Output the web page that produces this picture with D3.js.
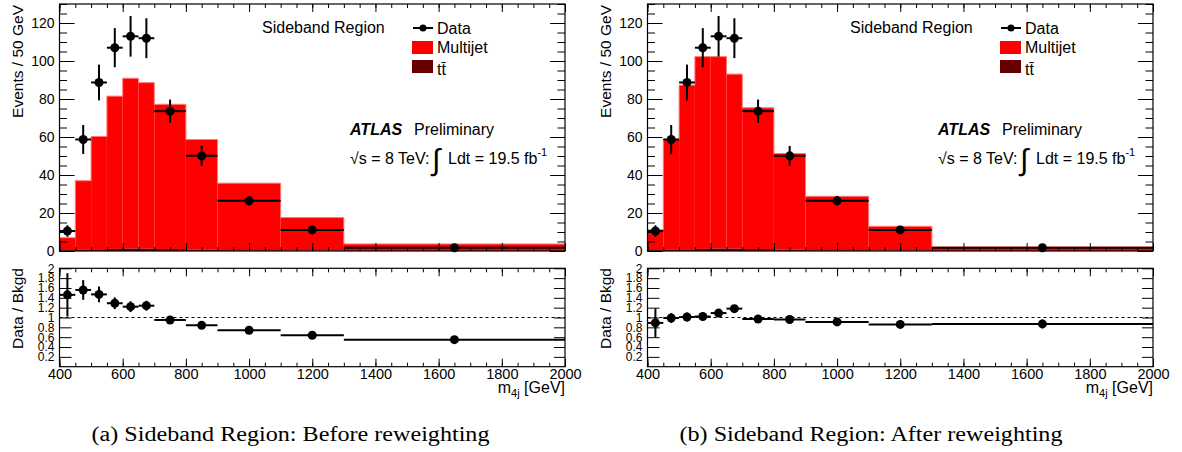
<!DOCTYPE html>
<html>
<head>
<meta charset="utf-8">
<script src="https://d3js.org/d3.v7.min.js"></script>
<style>
  body { margin: 0; background: #fff; }
  svg { display: block; }
  text { font-family: "Liberation Sans", Arial, sans-serif; fill: #000; }
  text.caption { font-family: "Liberation Serif", "Times New Roman", serif; }
</style>
</head>
<body>
<svg id="chart" width="1182" height="452"></svg>
<script>
// bin edges of the m4j histogram (GeV)
var binEdges = [400, 450, 500, 550, 600, 650, 700, 800, 900, 1100, 1300, 2000];
var dataCenters = [425, 475, 525, 575, 625, 675, 750, 850, 1000, 1200, 1650];

// data, events / 50 GeV
var dataValues = [10.5, 58.7, 88.7, 107, 113, 112, 73.6, 50.1, 26.4, 11.1, 1.7];
var dataErrors = [3, 7.6, 9.4, 10.3, 10.7, 10.5, 6.1, 5.2, 2.4, 1.5, 0.5];

// backgrounds
var ttbarValues = [0.3, 0.6, 0.9, 1.1, 1.3, 1.2, 1.0, 0.7, 0.4, 0.2, 0.05];
var multijetBefore = [6.7, 36.4, 59.4, 80.4, 89.6, 87.4, 76.2, 58.0, 35.3, 17.4, 3.65];
var multijetAfter = [10.9, 58.1, 86.4, 101.2, 101.0, 91.9, 74.4, 50.6, 28.4, 12.8, 2.1];

// data / bkgd
var ratioBefore = [1.46, 1.56, 1.47, 1.29, 1.22, 1.24, 0.95, 0.84, 0.74, 0.64, 0.55];
var ratioBeforeErr = [0.44, 0.2, 0.16, 0.12, 0.11, 0.1, 0.05, 0.04, 0.03, 0.03, 0.04];
var ratioAfter = [0.89, 0.99, 1.01, 1.02, 1.09, 1.18, 0.97, 0.96, 0.91, 0.86, 0.87];
var ratioAfterErr = [0.29, 0.1, 0.09, 0.08, 0.07, 0.07, 0.04, 0.05, 0.04, 0.06, 0.09];

var xTicks = [400, 600, 800, 1000, 1200, 1400, 1600, 1800, 2000];
var yTicksMain = [0, 20, 40, 60, 80, 100, 120];
var yTicksRatio = [0.2, 0.4, 0.6, 0.8, 1, 1.2, 1.4, 1.6, 1.8, 2];

var captions = ["(a)  Sideband Region: Before reweighting", "(b)  Sideband Region: After reweighting"];
var captionWidths = [398, 383];

var svg = d3.select("#chart");

function drawPanel(x0, multijet, ratio, ratioErr, caption, capW) {
    var g = svg.append("g");
    var xr = [x0, x0 + 505.5];
    var top = 4, bottom = 251;
    var rTop = 268.3, rBottom = 366.7;

    var x = d3.scaleLinear().domain([400, 2000]).range(xr);
    var y = d3.scaleLinear().domain([0, 130]).range([bottom, top]);
    var yr = d3.scaleLinear().domain([0, 2]).range([rBottom, rTop]);

    var bins = binEdges.slice(0, -1).map(function(lo, i) {
        return {lo: lo, hi: binEdges[i + 1], tt: ttbarValues[i], mj: multijet[i],
                x: dataCenters[i], d: dataValues[i], e: dataErrors[i],
                r: ratio[i], re: ratioErr[i]};
    });

    // stacked histogram: multijet on top of ttbar
    g.selectAll(".mj").data(bins).enter().append("rect")
        .attr("x", d => x(d.lo))
        .attr("width", d => x(d.hi) - x(d.lo))
        .attr("y", d => y(d.tt + d.mj))
        .attr("height", d => y(d.tt) - y(d.tt + d.mj))
        .attr("fill", "#ff0000");

    var step = [];
    bins.forEach(function(d) {
        step.push([x(d.lo), y(d.tt + d.mj)]);
        step.push([x(d.hi), y(d.tt + d.mj)]);
    });
    g.append("path")
        .attr("d", "M" + x(400) + "," + y(0) + "L" + step.join("L") + "L" + x(2000) + "," + y(0))
        .attr("fill", "none").attr("stroke", "#ff7a7a").attr("stroke-width", 1);

    g.selectAll(".tt").data(bins).enter().append("rect")
        .attr("x", d => x(d.lo))
        .attr("width", d => x(d.hi) - x(d.lo))
        .attr("y", d => y(d.tt))
        .attr("height", d => y(0) - y(d.tt))
        .attr("fill", "#660000");

    // data points
    var pts = g.append("g");
    pts.selectAll(".h").data(bins).enter().append("line")
        .attr("x1", d => x(d.lo)).attr("x2", d => x(d.hi))
        .attr("y1", d => y(d.d)).attr("y2", d => y(d.d))
        .attr("stroke", "#000").attr("stroke-width", 2);
    pts.selectAll(".v").data(bins).enter().append("line")
        .attr("x1", d => x(d.x)).attr("x2", d => x(d.x))
        .attr("y1", d => y(d.d - d.e)).attr("y2", d => y(d.d + d.e))
        .attr("stroke", "#000").attr("stroke-width", 2);
    pts.selectAll("circle").data(bins).enter().append("circle")
        .attr("cx", d => x(d.x)).attr("cy", d => y(d.d)).attr("r", 4.5)
        .attr("fill", "#000");

    // axes (ticks inside the frame, ROOT style)
    function ax(axis, tx, ty, tickVals, len, fmt, fs) {
        var a = g.append("g").attr("transform", "translate(" + tx + "," + ty + ")")
            .call(axis.tickValues(tickVals).tickSizeInner(-len).tickSizeOuter(0)
                .tickPadding(5).tickFormat(fmt));
        a.select(".domain").remove();
        a.selectAll("line").attr("stroke", "#000");
        a.selectAll("text").style("font-family", "Liberation Sans, Arial, sans-serif")
            .style("font-size", fs + "px").attr("fill", "#000");
        return a;
    }
    var none = function() { return ""; };
    var minorY = d3.range(0, 131, 5);
    var minorX = d3.range(400, 2001, 50);

    ax(d3.axisLeft(y), xr[0], 0, yTicksMain, 15, d3.format("d"), 14);
    ax(d3.axisLeft(y), xr[0], 0, minorY, 7.5, none, 14);
    ax(d3.axisRight(y), xr[1], 0, yTicksMain, 15, none, 14);
    ax(d3.axisRight(y), xr[1], 0, minorY, 7.5, none, 14);
    ax(d3.axisBottom(x), 0, bottom, xTicks, 8, none, 14);
    ax(d3.axisBottom(x), 0, bottom, minorX, 4, none, 14);
    ax(d3.axisTop(x), 0, top, xTicks, 8, none, 14);
    ax(d3.axisTop(x), 0, top, minorX, 4, none, 14);

    g.append("rect").attr("x", xr[0]).attr("y", top)
        .attr("width", xr[1] - xr[0]).attr("height", bottom - top)
        .attr("fill", "none").attr("stroke", "#000").attr("stroke-width", 1.2);

    g.append("text").attr("text-anchor", "end").style("font-size", "15.5px")
        .attr("transform", "translate(" + (x0 - 37) + ",5) rotate(-90)")
        .text("Events / 50 GeV");

    // labels inside the panel
    var lx = x0 - 59.5;
    g.append("text").attr("x", lx + 262).attr("y", 33).style("font-size", "16px").text("Sideband Region");

    g.append("line").attr("x1", lx + 413).attr("x2", lx + 433).attr("y1", 28).attr("y2", 28)
        .attr("stroke", "#000").attr("stroke-width", 2);
    g.append("circle").attr("cx", lx + 423).attr("cy", 28).attr("r", 3.5).attr("fill", "#000");
    g.append("text").attr("x", lx + 437).attr("y", 34).style("font-size", "16px").text("Data");
    g.append("rect").attr("x", lx + 412).attr("y", 41).attr("width", 21).attr("height", 13).attr("fill", "#ff0000");
    g.append("text").attr("x", lx + 437).attr("y", 53).style("font-size", "16px").text("Multijet");
    g.append("rect").attr("x", lx + 412).attr("y", 60).attr("width", 21).attr("height", 13).attr("fill", "#660000");
    g.append("text").attr("x", lx + 437).attr("y", 75).style("font-size", "16px").text("t\u0074\u0304");

    g.append("text").attr("x", lx + 350).attr("y", 135).style("font-size", "16px")
        .style("font-weight", "bold").style("font-style", "italic").text("ATLAS");
    g.append("text").attr("x", lx + 414).attr("y", 135).style("font-size", "16px").text("Preliminary");
    g.append("text").attr("x", lx + 350).attr("y", 164).style("font-size", "16px").text("\u221As = 8 TeV:");
    g.append("text").attr("x", lx + 432).attr("y", 170).style("font-size", "30px").text("\u222B");
    var lum = g.append("text").attr("x", lx + 448).attr("y", 164).style("font-size", "16px");
    lum.append("tspan").text("Ldt = 19.5 fb");
    lum.append("tspan").attr("dy", -8).style("font-size", "11px").text("-1");

    // ratio panel
    var rg = g.append("g");
    rg.append("line").attr("x1", xr[0]).attr("x2", xr[1]).attr("y1", yr(1)).attr("y2", yr(1))
        .attr("stroke", "#000").attr("stroke-width", 1).attr("stroke-dasharray", "3,3");
    rg.selectAll(".h").data(bins).enter().append("line")
        .attr("x1", d => x(d.lo)).attr("x2", d => x(d.hi))
        .attr("y1", d => yr(d.r)).attr("y2", d => yr(d.r))
        .attr("stroke", "#000").attr("stroke-width", 2);
    rg.selectAll(".v").data(bins).enter().append("line")
        .attr("x1", d => x(d.x)).attr("x2", d => x(d.x))
        .attr("y1", d => yr(d.r - d.re)).attr("y2", d => yr(d.r + d.re))
        .attr("stroke", "#000").attr("stroke-width", 2);
    rg.selectAll("circle").data(bins).enter().append("circle")
        .attr("cx", d => x(d.x)).attr("cy", d => yr(d.r)).attr("r", 4.5).attr("fill", "#000");

    ax(d3.axisLeft(yr), xr[0], 0, yTicksRatio, 12, d3.format("~g"), 12);
    ax(d3.axisRight(yr), xr[1], 0, yTicksRatio, 11, none, 12);
    ax(d3.axisBottom(x), 0, rBottom, xTicks, 8, d3.format("d"), 14.5)
        .selectAll("text").attr("y", 12).attr("dy", 0);
    ax(d3.axisBottom(x), 0, rBottom, minorX, 4, none, 14);
    ax(d3.axisTop(x), 0, rTop, xTicks, 8, none, 14);
    ax(d3.axisTop(x), 0, rTop, minorX, 4, none, 14);

    g.append("rect").attr("x", xr[0]).attr("y", rTop)
        .attr("width", xr[1] - xr[0]).attr("height", rBottom - rTop)
        .attr("fill", "none").attr("stroke", "#000").attr("stroke-width", 1.2);

    g.append("text").attr("text-anchor", "end").style("font-size", "15.5px")
        .attr("transform", "translate(" + (x0 - 37) + ",268) rotate(-90)")
        .text("Data / Bkgd");

    var xl = g.append("text").attr("x", xr[1]).attr("y", 393).attr("text-anchor", "end")
        .style("font-size", "16px");
    xl.append("tspan").text("m");
    xl.append("tspan").attr("dy", 4).style("font-size", "11px").text("4j");
    xl.append("tspan").attr("dy", -4).text(" [GeV]");

    svg.append("text").attr("class", "caption").attr("x", x0 + 32).attr("y", 441)
        .attr("textLength", capW).attr("lengthAdjust", "spacingAndGlyphs")
        .style("font-size", "20px")
        .text(caption);
}

drawPanel(59.5, multijetBefore, ratioBefore, ratioBeforeErr, captions[0], captionWidths[0]);
drawPanel(647.5, multijetAfter, ratioAfter, ratioAfterErr, captions[1], captionWidths[1]);
</script>
</body>
</html>
